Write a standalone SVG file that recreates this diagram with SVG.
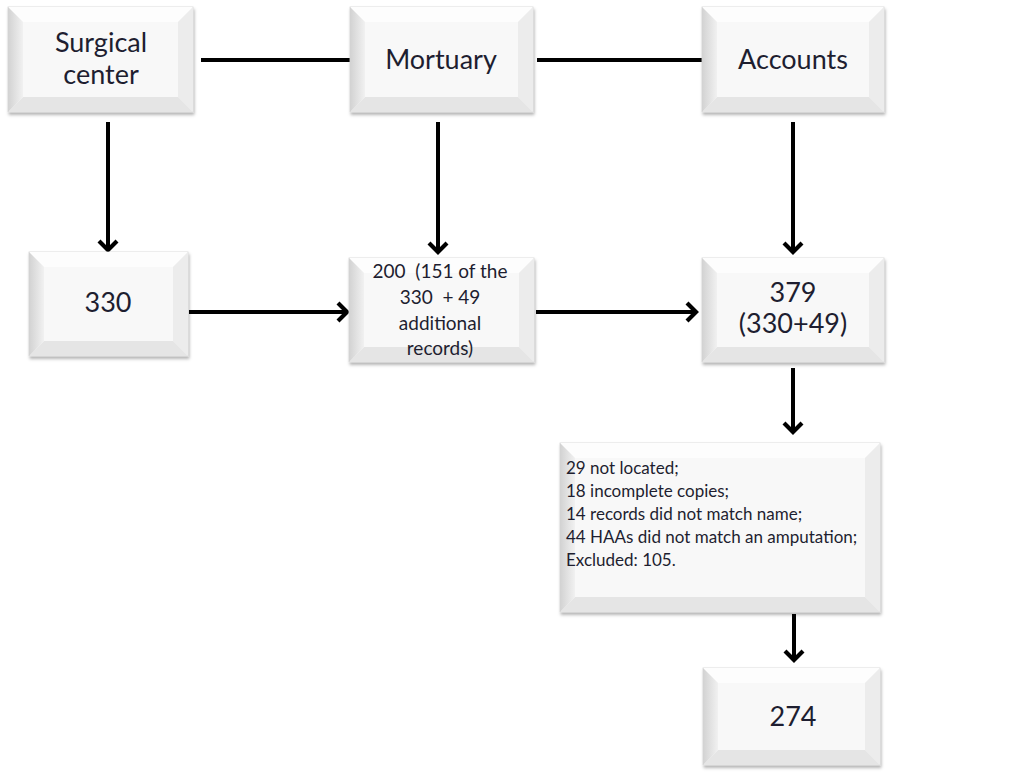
<svg xmlns="http://www.w3.org/2000/svg" width="1019" height="775" viewBox="0 0 1019 775">
<style>
.face{fill:#f8f8f8}
.out{fill:#f6f6f6;stroke:#d4d4d4;stroke-width:0.8;filter:url(#sh)}
.bl{fill:url(#gl)}
.bt{fill:#fdfdfd}
.br{fill:#ececec}
.bb{fill:#e5e5e5}
.t{font-family:Lato,"Liberation Sans",sans-serif;fill:#1e1e30;text-anchor:middle;white-space:pre}
.big{font-size:27px}
.mid{font-size:19px}
.lst{font-size:17px;text-anchor:start}
.c{stroke:#000;stroke-width:4;fill:none}
</style>
<defs>
<linearGradient id="gl" x1="0" y1="0" x2="1" y2="0">
<stop offset="0" stop-color="#d2d2d2"/>
<stop offset="1" stop-color="#f1f1f1"/>
</linearGradient>
<filter id="sh" x="-10%" y="-10%" width="125%" height="130%">
<feDropShadow dx="1" dy="2.5" stdDeviation="1.8" flood-color="#000" flood-opacity="0.3"/>
</filter>
<marker id="ah" markerUnits="userSpaceOnUse" markerWidth="22" markerHeight="26" viewBox="-16 -13 20 26" refX="0" refY="0" orient="auto">
<path d="M-10,-9 L-1,0 L-10,9" fill="none" stroke="#000" stroke-width="4.2" stroke-linejoin="miter" stroke-linecap="butt"/>
</marker>
</defs>
<rect width="1019" height="775" fill="#fff"/>

<g id="connectors">
<line class="c" x1="201" y1="60" x2="350" y2="60"/>
<line class="c" x1="537" y1="60" x2="702" y2="60"/>
<line class="c" x1="108" y1="122" x2="108" y2="251" marker-end="url(#ah)"/>
<line class="c" x1="438" y1="122" x2="438" y2="253" marker-end="url(#ah)"/>
<line class="c" x1="793" y1="122" x2="793" y2="253" marker-end="url(#ah)"/>
<line class="c" x1="189" y1="312" x2="348" y2="312" marker-end="url(#ah)"/>
<line class="c" x1="536" y1="312" x2="697" y2="312" marker-end="url(#ah)"/>
<line class="c" x1="793" y1="368" x2="793" y2="433" marker-end="url(#ah)"/>
<line class="c" x1="794" y1="614" x2="794" y2="661" marker-end="url(#ah)"/>
</g>

<g id="n-surgical">
<rect class="out" x="8" y="7" width="185" height="105"/>
<polygon class="bt" points="8,7 193,7 178,22 23,22"/>
<polygon class="br" points="193,7 193,112 178,97 178,22"/>
<polygon class="bb" points="8,112 193,112 178,97 23,97"/>
<polygon class="bl" points="8,7 23,22 23,97 8,112"/>
<rect class="face" x="23" y="22" width="155" height="75"/>
<text class="t big" x="101" y="52">Surgical</text>
<text class="t big" x="101" y="84">center</text>
</g>

<g id="n-mortuary">
<rect class="out" x="350" y="7" width="183" height="105"/>
<polygon class="bt" points="350,7 533,7 518,22 365,22"/>
<polygon class="br" points="533,7 533,112 518,97 518,22"/>
<polygon class="bb" points="350,112 533,112 518,97 365,97"/>
<polygon class="bl" points="350,7 365,22 365,97 350,112"/>
<rect class="face" x="365" y="22" width="153" height="75"/>
<text class="t big" x="441" y="69">Mortuary</text>
</g>

<g id="n-accounts">
<rect class="out" x="702" y="7" width="182" height="105"/>
<polygon class="bt" points="702,7 884,7 869,22 717,22"/>
<polygon class="br" points="884,7 884,112 869,97 869,22"/>
<polygon class="bb" points="702,112 884,112 869,97 717,97"/>
<polygon class="bl" points="702,7 717,22 717,97 702,112"/>
<rect class="face" x="717" y="22" width="152" height="75"/>
<text class="t big" x="793" y="69">Accounts</text>
</g>

<g id="n-330">
<rect class="out" x="29" y="252" width="159" height="104"/>
<polygon class="bt" points="29,252 188,252 173,267 44,267"/>
<polygon class="br" points="188,252 188,356 173,341 173,267"/>
<polygon class="bb" points="29,356 188,356 173,341 44,341"/>
<polygon class="bl" points="29,252 44,267 44,341 29,356"/>
<rect class="face" x="44" y="267" width="129" height="74"/>
<text class="t big" x="108" y="312">330</text>
</g>

<g id="n-200">
<rect class="out" x="349" y="258" width="185" height="104"/>
<polygon class="bt" points="349,258 534,258 519,273 364,273"/>
<polygon class="br" points="534,258 534,362 519,347 519,273"/>
<polygon class="bb" points="349,362 534,362 519,347 364,347"/>
<polygon class="bl" points="349,258 364,273 364,347 349,362"/>
<rect class="face" x="364" y="273" width="155" height="74"/>
<text class="t mid" x="440" y="278">200  (151 of the</text>
<text class="t mid" x="440" y="304">330  + 49</text>
<text class="t mid" x="440" y="330">additional</text>
<text class="t mid" x="440" y="355">records)</text>
</g>

<g id="n-379">
<rect class="out" x="702" y="258" width="182" height="104"/>
<polygon class="bt" points="702,258 884,258 869,273 717,273"/>
<polygon class="br" points="884,258 884,362 869,347 869,273"/>
<polygon class="bb" points="702,362 884,362 869,347 717,347"/>
<polygon class="bl" points="702,258 717,273 717,347 702,362"/>
<rect class="face" x="717" y="273" width="152" height="74"/>
<text class="t big" x="793" y="302">379</text>
<text class="t big" x="793" y="333">(330+49)</text>
</g>

<g id="n-excluded">
<rect class="out" x="560" y="443" width="320" height="169"/>
<polygon class="bt" points="560,443 880,443 865,458 575,458"/>
<polygon class="br" points="880,443 880,612 865,597 865,458"/>
<polygon class="bb" points="560,612 880,612 865,597 575,597"/>
<polygon class="bl" points="560,443 575,458 575,597 560,612"/>
<rect class="face" x="575" y="458" width="290" height="139"/>
<text class="t lst" x="566" y="474">29 not located;</text>
<text class="t lst" x="566" y="497">18 incomplete copies;</text>
<text class="t lst" x="566" y="520">14 records did not match name;</text>
<text class="t lst" x="566" y="543">44 HAAs did not match an amputation;</text>
<text class="t lst" x="566" y="566">Excluded: 105.</text>
</g>

<g id="n-274">
<rect class="out" x="703" y="668" width="177" height="97"/>
<polygon class="bt" points="703,668 880,668 865,683 718,683"/>
<polygon class="br" points="880,668 880,765 865,750 865,683"/>
<polygon class="bb" points="703,765 880,765 865,750 718,750"/>
<polygon class="bl" points="703,668 718,683 718,750 703,765"/>
<rect class="face" x="718" y="683" width="147" height="67"/>
<text class="t big" x="793" y="726">274</text>
</g>
</svg>
